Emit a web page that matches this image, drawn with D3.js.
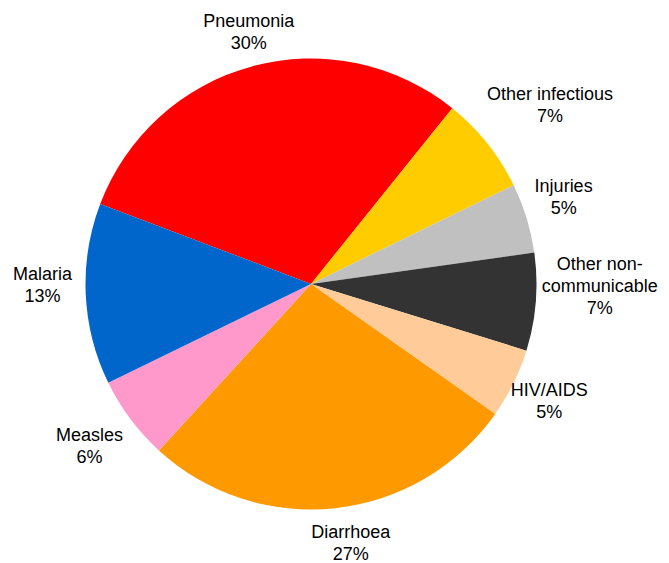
<!DOCTYPE html>
<html>
<head>
<meta charset="utf-8">
<script src="https://cdn.jsdelivr.net/npm/d3@7"></script>
<style>
  html, body { margin: 0; padding: 0; background: #fff; }
  svg { display: block; }
  text { font-family: "Liberation Sans", Arial, sans-serif; font-size: 18px; fill: #000; }
</style>
</head>
<body>
<svg id="chart" width="669" height="563"></svg>
<script>
// ---- data ----
const categories = ["Pneumonia", "Other infectious", "Injuries", "Other non-communicable", "HIV/AIDS", "Diarrhoea", "Measles", "Malaria"];
const values = [30, 7, 5, 7, 5, 27, 6, 13];
const labelLines = [["Pneumonia"], ["Other infectious"], ["Injuries"], ["Other non-", "communicable"], ["HIV/AIDS"], ["Diarrhoea"], ["Measles"], ["Malaria"]];
const colors = ["#FF0000", "#FFCC00", "#C0C0C0", "#333333", "#FFCC99", "#FF9900", "#FF99CC", "#0066CC"];

// ---- layout ----
const W = 669, H = 563;
const cx = 311, cy = 284, r = 225.5;
const startDeg = -69.2;
const lineH = 22, capH = 13, gap = 10;
// manual label adjustments (like dragged data labels), in px
const labelNudge = [[7, 3], [8, 5], [-4, -9], [-6, -22], [-11, -6], [12, 3], [-3, -2], [-3, -12]];

const svg = d3.select("#chart");
const g = svg.append("g").attr("transform", `translate(${cx},${cy})`);

const pie = d3.pie().sort(null).value(d => d)
  .startAngle(startDeg * Math.PI / 180)
  .endAngle(startDeg * Math.PI / 180 + 2 * Math.PI);
const arcs = pie(values);
const arc = d3.arc().innerRadius(0).outerRadius(r);

g.selectAll("path.slice").data(arcs).enter().append("path")
  .attr("class", "slice")
  .attr("d", arc)
  .attr("fill", (d, i) => colors[i]);

arcs.forEach((d, i) => {
  const lines = labelLines[i].concat([values[i] + "%"]);
  const t = g.append("text").attr("text-anchor", "middle");
  const spans = lines.map(s => t.append("tspan").text(s));
  const w = d3.max(spans, s => s.node().getComputedTextLength());
  const h = (lines.length - 1) * lineH + capH;
  const a = (d.startAngle + d.endAngle) / 2;
  const sa = Math.sin(a), ca = Math.cos(a);
  const R = r + gap + Math.abs(sa) * w / 2 + Math.abs(ca) * h / 2;
  const lx = R * sa + labelNudge[i][0], ly = -R * ca + labelNudge[i][1];
  const firstBase = ly - h / 2 + capH;
  spans.forEach((s, k) => s.attr("x", lx).attr("y", firstBase + k * lineH));
});
</script>
</body>
</html>
